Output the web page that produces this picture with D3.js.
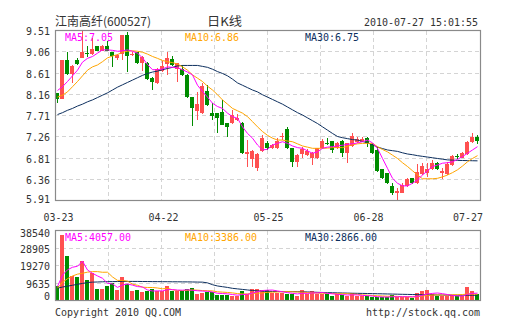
<!DOCTYPE html>
<html><head><meta charset="utf-8">
<script src="https://cdn.jsdelivr.net/npm/d3@7"></script>
<style>html,body{margin:0;padding:0;background:#fff;}svg{display:block}</style>
</head><body>
<svg id="chart" width="505" height="330"></svg>
<script>
// ---------- data ----------
const stockName = "江南高纤(600527)";
const chartTitle = "日K线";
const timeStamp = "2010-07-27 15:01:55";
const dateLabels = ["03-23","04-22","05-25","06-28","07-27"];
const dateLabelIdx = [0,21,42,62,84];
const priceTicks = [9.51,9.06,8.61,8.16,7.71,7.26,6.81,6.36,5.91];
const volTicks = [38540,28905,19270,9635,0];

const opens = [8.19,8.066,8.885,8.58,8.885,8.935,9.03,9.005,9.18,9.08,
 9.18,9.05,8.93,9.005,9.415,8.99,9.05,8.83,8.83,8.51,
 8.40,8.65,8.80,8.90,8.695,8.69,8.57,8.095,7.81,7.76,
 8.23,7.76,7.76,7.79,7.545,7.545,7.615,7.56,6.89,6.78,
 6.605,6.96,7.12,7.015,7.015,7.26,7.42,7.015,6.73,6.89,
 6.875,6.80,6.80,7.015,7.13,7.17,7.015,7.18,6.92,7.065,
 7.14,7.155,7.23,7.10,6.98,6.57,6.485,6.225,6.075,6.075,
 6.22,6.38,6.275,6.47,6.485,6.57,6.70,6.50,6.47,6.66,
 6.85,6.817,6.895,7.14,7.26];
const highs = [8.19,8.89,9.05,8.77,8.92,9.50,9.18,9.35,9.19,9.20,
 9.29,9.06,9.02,9.42,9.48,9.05,9.06,8.97,8.85,8.53,
 8.72,8.865,9.055,8.97,8.83,8.78,8.58,8.10,8.21,8.39,
 8.36,7.97,7.77,8.04,7.56,7.83,7.735,7.57,7.19,6.98,
 6.91,7.30,7.18,7.10,7.23,7.33,7.46,7.03,6.89,7.05,
 7.00,6.94,7.03,7.21,7.23,7.18,7.15,7.20,7.13,7.34,
 7.26,7.25,7.26,7.135,7.05,6.58,6.50,6.275,6.17,6.275,
 6.38,6.39,6.68,6.70,6.71,6.77,6.73,6.59,6.73,6.875,
 6.89,6.945,7.18,7.33,7.30];
const lows = [7.975,8.06,8.57,8.405,8.78,8.93,8.955,8.99,9.07,9.07,
 9.07,8.74,8.88,8.885,8.64,8.97,8.81,8.65,8.46,8.25,
 8.38,8.63,8.57,8.76,8.43,8.55,8.08,7.49,7.615,7.74,
 7.92,7.615,7.34,7.50,7.25,7.53,7.60,6.90,6.625,6.62,
 6.54,6.94,6.98,7.00,7.00,7.19,7.00,6.61,6.625,6.80,
 6.85,6.66,6.78,7.00,7.075,6.91,7.00,6.825,6.71,7.05,
 7.12,7.14,7.04,6.90,6.52,6.36,6.25,6.03,5.905,6.06,
 6.20,6.26,6.26,6.45,6.41,6.55,6.56,6.36,6.45,6.64,
 6.79,6.80,6.88,7.12,7.105];
const closes = [8.05,8.885,8.58,8.76,8.81,9.06,9.02,9.11,9.08,9.18,
 9.08,8.97,9.00,9.41,8.97,9.02,8.83,8.955,8.48,8.43,
 8.705,8.76,8.92,8.78,8.815,8.57,8.095,7.86,7.95,8.34,
 7.93,7.71,7.665,7.51,7.46,7.72,7.665,6.92,6.93,6.96,
 6.895,7.227,7.03,7.085,7.18,7.275,7.015,6.73,6.875,6.995,
 6.96,6.92,7.015,7.17,7.11,6.99,7.135,6.92,7.12,7.275,
 7.205,7.205,7.12,6.92,6.54,6.38,6.275,6.065,6.12,6.24,
 6.36,6.275,6.51,6.64,6.57,6.71,6.58,6.535,6.68,6.85,
 6.825,6.91,7.155,7.26,7.18];
const volumes = [7730,35800,24240,13600,12870,21860,11400,15070,6440,6440,
 8090,9560,5520,13050,9190,4970,5520,4420,4970,6260,
 5340,5340,8090,4970,4970,4970,6440,6810,3690,4060,
 4420,4420,3140,3140,3140,2590,2590,4970,3690,6440,
 6440,5890,5890,4060,4060,4060,3690,3690,2590,5890,
 3690,4970,3690,3690,3510,2590,3510,2960,2590,4000,
 2220,2220,2220,1670,1850,1850,1850,3000,1850,1850,
 1850,1490,4060,4970,5520,3510,2590,2220,2590,2960,
 2220,2220,7180,4970,3690];

const ma5 = [8.24,8.32,8.43,8.55,8.67,8.84,8.92,8.96,9.03,9.10,
 9.10,9.09,9.07,9.08,9.10,9.07,9.03,8.93,8.79,8.68,
 8.68,8.695,8.74,8.73,8.72,8.68,8.63,8.57,8.35,8.22,
 8.10,7.97,7.90,7.86,7.76,7.685,7.65,7.47,7.33,7.23,
 7.085,6.98,6.995,7.085,7.12,7.155,7.12,7.065,7.03,7.015,
 6.96,6.91,6.94,7.015,7.04,7.05,7.065,7.08,7.10,7.11,
 7.13,7.155,7.19,7.13,7.015,6.80,6.59,6.38,6.275,6.22,
 6.22,6.275,6.345,6.45,6.54,6.63,6.66,6.70,6.71,6.73,
 6.78,6.84,6.91,6.98,7.05];
const ma10 = [8.10,8.14,8.21,8.32,8.43,8.55,8.67,8.74,8.78,8.85,
 8.93,8.97,9.00,9.05,9.07,9.08,9.07,9.05,9.01,8.96,
 8.92,8.875,8.85,8.83,8.80,8.74,8.67,8.57,8.50,8.43,
 8.33,8.25,8.15,8.04,7.95,7.86,7.81,7.76,7.685,7.58,
 7.47,7.37,7.29,7.23,7.19,7.19,7.17,7.155,7.11,7.065,
 7.04,7.015,7.015,7.015,7.02,7.03,7.03,7.03,7.06,7.09,
 7.11,7.12,7.12,7.12,7.05,6.99,6.94,6.87,6.80,6.71,
 6.63,6.54,6.45,6.37,6.37,6.37,6.38,6.41,6.45,6.50,
 6.56,6.64,6.73,6.80,6.86];
const ma30 = [7.73,7.77,7.82,7.86,7.91,7.95,8.00,8.04,8.09,8.14,
 8.19,8.25,8.31,8.36,8.41,8.46,8.51,8.56,8.60,8.63,
 8.65,8.68,8.705,8.73,8.76,8.77,8.77,8.77,8.77,8.75,
 8.73,8.69,8.64,8.60,8.55,8.48,8.40,8.35,8.30,8.25,
 8.21,8.15,8.10,8.05,8.00,7.95,7.89,7.83,7.77,7.72,
 7.66,7.60,7.54,7.47,7.40,7.33,7.265,7.24,7.22,7.20,
 7.19,7.16,7.13,7.09,7.04,7.01,6.98,6.965,6.95,6.92,
 6.895,6.88,6.86,6.845,6.83,6.815,6.80,6.785,6.77,6.765,
 6.76,6.757,6.755,6.752,6.75];
const vma5 = [7700,14000,16900,18300,18850,21670,16790,14960,13530,12240,
 9490,9120,7210,8530,9080,8460,7650,7430,5810,5230,
 5300,5270,6000,6000,5740,5670,5890,5630,5380,5190,
 5080,4680,3950,3840,3650,3290,2920,3290,3400,4060,
 4830,5490,5670,5740,5270,4790,4350,3910,3620,3980,
 3910,4170,4170,4390,3910,3690,3400,3250,3030,3130,
 3060,2800,2650,2470,2040,1960,1890,2040,2080,2080,
 2080,2010,2220,2840,3580,3910,4130,3760,3290,2770,
 2520,2440,3430,3910,4057];
const vma10 = [6800,10000,12000,13500,14500,15000,15600,15900,15900,15545,
 15581,12957,11085,11030,10662,8973,8385,7320,7173,7155,
 6880,6458,6715,5907,5485,5485,5577,5816,5688,5468,
 5376,5284,4789,4606,4423,4185,3800,3616,3616,3854,
 4056,4203,4478,4570,4662,4809,4919,4791,4681,4626,
 4351,4259,4039,4002,3947,3800,3782,3709,3709,3520,
 3373,3098,2951,2749,2583,2509,2343,2347,2273,2058,
 2021,1948,2132,2462,2829,2995,3069,2991,3065,3176,
 3213,3286,3598,3598,3386];
const vma30 = [6800,7400,7900,8400,8900,9400,9900,10100,10200,10300,
 10400,10400,10450,10500,10500,10500,10500,10450,10450,10400,
 10400,10350,10350,10300,10300,10250,10250,10200,10150,10100,
 9700,8700,8000,7600,7200,6700,6400,6100,5800,5500,
 5300,5150,5050,4980,4950,4920,4900,4880,4850,4800,
 4700,4600,4500,4420,4340,4270,4200,4130,4070,4000,
 3950,3900,3850,3790,3730,3670,3600,3540,3470,3400,
 3350,3290,3230,3180,3120,3080,3040,3000,2960,2920,
 2900,2890,2880,2870,2866];

const maLabels = ["MA5:7.05","MA10:6.86","MA30:6.75"];
const vmaLabels = ["MA5:4057.00","MA10:3386.00","MA30:2866.00"];
const footerLeft = "Copyright 2010 QQ.COM";
const footerRight = "http://stock.qq.com";

// ---------- styles ----------
const RED = "#ff5050", GREEN = "#008c00";
const C5 = "#ff00ff", C10 = "#ffa500", C30 = "#0d2f5e";
const GRID = "#d4d4d4", FRAME = "#8a8a8a", TXT = "#333";
const MONO = "'DejaVu Sans Mono','Liberation Mono',monospace";
const CJK = "'Noto Sans CJK SC','Noto Sans',sans-serif";

const L = 55, R = 480;
const pTop = 30.5, pBot = 200.5;
const vTop = 230.5, vBot = 300.5;
const n = closes.length;

const svg = d3.select("#chart");

const x = d3.scaleBand().domain(d3.range(n)).range([L, R]).paddingInner(0.2).paddingOuter(0.1);
const xl = i => Math.floor(x(i));           // body left pixel
const xc = i => Math.floor(x(i)) + 2.5;     // wick / line center
const y = d3.scaleLinear().domain([5.91, 9.51]).range([pBot, pTop]);
const vy = d3.scaleLinear().domain([0, 38540]).range([vBot, vTop]);
const gx = d3.scaleLinear().domain([0, 8]).range([L, R]);
const crisp = v => Math.floor(v) + 0.5;

function monoText(g, str, px, py, anchor, color, size) {
  return g.append("text").attr("x", px).attr("y", py)
    .attr("text-anchor", anchor || "start")
    .attr("font-family", MONO).attr("font-size", size || 11)
    .attr("textLength", str.length * 6).attr("lengthAdjust", "spacingAndGlyphs")
    .attr("fill", color || TXT).text(str);
}

// ---------- grids ----------
const grid = svg.append("g").attr("stroke", GRID).attr("stroke-width", 1)
  .attr("stroke-dasharray", "4,3").attr("shape-rendering", "crispEdges");
priceTicks.slice(1, -1).forEach(t => {
  grid.append("line").attr("x1", L).attr("x2", R).attr("y1", crisp(y(t))).attr("y2", crisp(y(t)));
});
volTicks.slice(1, -1).forEach(t => {
  grid.append("line").attr("x1", L).attr("x2", R).attr("y1", crisp(vy(t))).attr("y2", crisp(vy(t)));
});
d3.range(1, 8).forEach(k => {
  const gxx = crisp(gx(k));
  grid.append("line").attr("x1", gxx).attr("x2", gxx).attr("y1", pTop).attr("y2", pBot);
  grid.append("line").attr("x1", gxx).attr("x2", gxx).attr("y1", vTop).attr("y2", vBot);
});

// ---------- candles ----------
const cg = svg.append("g").attr("shape-rendering", "crispEdges");
d3.range(n).forEach(i => {
  const up = closes[i] >= opens[i];
  const col = up ? RED : GREEN;
  cg.append("line").attr("x1", xc(i)).attr("x2", xc(i))
    .attr("y1", y(highs[i])).attr("y2", y(lows[i])).attr("stroke", col).attr("stroke-width", 1);
  const top = y(Math.max(opens[i], closes[i]));
  const bot = y(Math.min(opens[i], closes[i]));
  cg.append("rect").attr("x", xl(i)).attr("width", x.bandwidth())
    .attr("y", top).attr("height", Math.max(1, bot - top)).attr("fill", col);
});

// ---------- volume bars ----------
const vg = svg.append("g").attr("shape-rendering", "crispEdges");
d3.range(n).forEach(i => {
  const up = closes[i] >= opens[i];
  vg.append("rect").attr("x", xl(i)).attr("width", x.bandwidth())
    .attr("y", vy(volumes[i])).attr("height", vBot - vy(volumes[i]))
    .attr("fill", up ? RED : GREEN);
});

// ---------- MA lines ----------
const pLine = d3.line().x((d, i) => xc(i)).y(d => y(d));
const vLine = d3.line().x((d, i) => xc(i)).y(d => vy(d));
[[ma30, C30], [ma10, C10], [ma5, C5]].forEach(([s, c]) => {
  svg.append("path").attr("d", pLine(s)).attr("fill", "none").attr("stroke", c).attr("stroke-width", 1);
});
[[vma30, C30], [vma10, C10], [vma5, C5]].forEach(([s, c]) => {
  svg.append("path").attr("d", vLine(s)).attr("fill", "none").attr("stroke", c).attr("stroke-width", 1);
});

// ---------- frames ----------
svg.append("rect").attr("x", L + 0.5).attr("y", pTop).attr("width", R - L).attr("height", pBot - pTop)
  .attr("fill", "none").attr("stroke", FRAME).attr("stroke-width", 1.2);
svg.append("rect").attr("x", L + 0.5).attr("y", vTop).attr("width", R - L).attr("height", vBot - vTop)
  .attr("fill", "none").attr("stroke", FRAME).attr("stroke-width", 1.2);

// ---------- axis labels ----------
const tg = svg.append("g");
priceTicks.forEach((t, k) => {
  const off = k === priceTicks.length - 1 ? 2.5 : 4.5;
  monoText(tg, t.toFixed(2), 50, y(t) + off, "end");
});
volTicks.forEach((t, k) => {
  let off = 4.5;
  if (k === 0) off = 6.5;
  if (k === volTicks.length - 1) off = -0.5;
  monoText(tg, String(t), 50, vy(t) + off, "end");
});
dateLabels.forEach((s, k) => {
  let cx = x(dateLabelIdx[k]) + x.bandwidth() / 2 + 1;
  const w = s.length * 6;
  cx = Math.min(cx, R + 3 - w / 2);
  monoText(tg, s, cx, 220.5, "middle");
});

// MA legends
const legX = [65, 185, 305];
const legC = [C5, C10, C30];
maLabels.forEach((s, k) => monoText(tg, s, legX[k], 40.5, "start", legC[k]));
vmaLabels.forEach((s, k) => monoText(tg, s, legX[k], 240.5, "start", legC[k]));

// header
tg.append("text").attr("x", 55).attr("y", 26).attr("font-family", CJK).attr("font-size", 12)
  .attr("textLength", 96).attr("lengthAdjust", "spacingAndGlyphs").attr("fill", TXT).text(stockName);
tg.append("text").attr("x", 224.5).attr("y", 26).attr("text-anchor", "middle").attr("font-family", CJK)
  .attr("font-size", 12).attr("textLength", 35).attr("lengthAdjust", "spacingAndGlyphs")
  .attr("fill", TXT).text(chartTitle);
monoText(tg, timeStamp, 478, 26, "end");

// footer
monoText(tg, footerLeft, 55, 315.5, "start");
monoText(tg, footerRight, 480, 315.5, "end");
</script>
</body></html>
